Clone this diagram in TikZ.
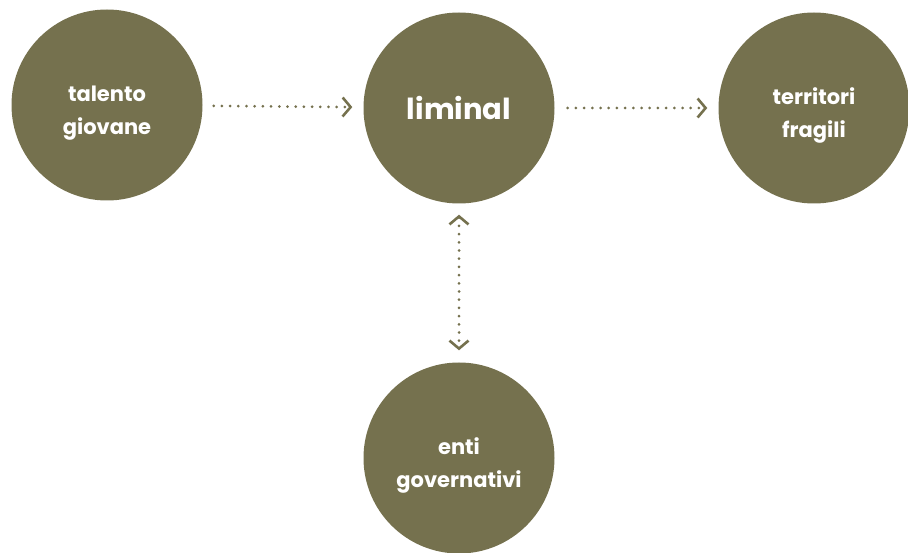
\documentclass[tikz,border=0pt]{standalone}
\usepackage{fontspec}
\setmainfont{Poppins}
\usetikzlibrary{arrows.meta,positioning}
\definecolor{olive}{HTML}{75714E}
\newcommand{\duo}[2]{\raisebox{-12pt}[0pt][0pt]{\begin{tabular}{@{}c@{}}#1\\#2\end{tabular}}}
\tikzset
{
    roundnode/.style = {circle, fill=olive, text=white, align=center, minimum size=191pt, inner sep=0pt, font=\fontsize{21}{33}\selectfont\bfseries},
    bignode/.style = {roundnode, font=\fontsize{29}{36}\selectfont\bfseries},
    barb/.tip = {Straight Barb[length=8pt,width=19pt,line width=2.6pt]},
    link/.style = {draw=olive, line width=3pt, line cap=round, dash pattern=on 0pt off 8.2pt, -{barb}}
}

\begin{document}
\begin{tikzpicture}[x=1pt,y=1pt]
\useasboundingbox (0,0) rectangle (908,-553);
\node[roundnode] (talento) at (107,-105) {\duo{talento}{giovane}};
\node[bignode] (liminal) at (459,-108) {liminal};
\node[roundnode] (territori) at (814,-108) {\duo{territori}{fragili}};
\node[roundnode] (enti) at (459,-458) {\duo{enti}{governativi}};
\draw[link, shorten <=11pt, shorten >=11pt] (talento) -- (liminal);
\draw[link, shorten <=13pt, shorten >=11pt] (liminal) -- (territori);
\draw[link, {barb}-{barb}, shorten <=11pt, shorten >=12pt] (liminal) -- (enti);
\end{tikzpicture}
\end{document}
